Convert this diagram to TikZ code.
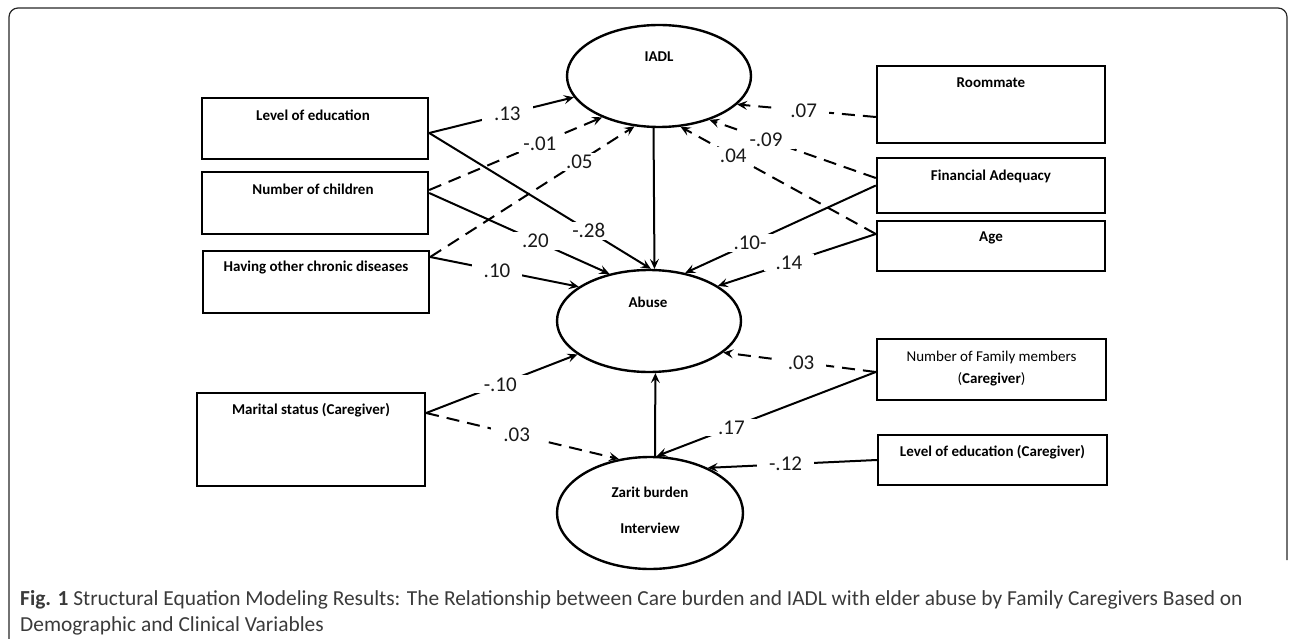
\documentclass[tikz,border=0pt]{standalone}
\usepackage{fontspec}
\setmainfont{Carlito}
\newfontfamily\capfont{Carlito}
\usetikzlibrary{shapes.geometric,arrows.meta}
\definecolor{captext}{HTML}{3A3A3A}
\begin{document}
\begin{tikzpicture}[x=1pt,y=-1pt,
  box/.style={draw,line width=2.4pt,rectangle,inner sep=0pt},
  oval/.style={draw,line width=2.4pt,ellipse,inner sep=0pt,minimum width=184pt,minimum height=102pt},
  btxt/.style={font=\fontsize{15}{17}\selectfont\bfseries,inner sep=0pt,align=center},
  coef/.style={font=\fontsize{21}{23}\selectfont,fill=white,inner xsep=12pt,inner ysep=2pt,text=black!90},
  path/.style={line width=2pt,-{Stealth[length=10pt,width=9pt,inset=4pt]}},
  dpath/.style={path,dash pattern=on 13pt off 8pt},
]
\useasboundingbox (0,0) rectangle (1292,639);
% frame
\draw[line width=1.2pt,rounded corners=9pt,black!85] (9,639) -- (9,8) -- (1287,8) -- (1287,560);

% ovals
\node[oval] (iadl) at (659,76) {};
\node[btxt] (iadlT) at (659,57) {IADL};
\node[oval] (abuse) at (649,321) {};
\node[btxt] (abuseT) at (648,302) {Abuse};
\node[oval,minimum width=186pt,minimum height=112pt] (zarit) at (650,513) {};
\node[btxt] (zaritT1) at (650,492) {Zarit burden};
\node[btxt] (zaritT2) at (650,528) {Interview};

% left boxes
\node[box,minimum width=226pt,minimum height=61pt] (loe) at (315,128.5) {};
\node[btxt] (loeT) at (313,115) {Level of education};
\node[box,minimum width=226pt,minimum height=62pt] (noc) at (315,203) {};
\node[btxt] (nocT) at (313,189) {Number of children};
\node[box,minimum width=226pt,minimum height=62pt] (hocd) at (316,282) {};
\node[btxt] (hocdT) at (316,268) {Having other chronic diseases};
\node[box,minimum width=228pt,minimum height=93pt] (mar) at (311,439.5) {};
\node[btxt] (marT) at (311,410) {Marital status (Caregiver)};

% right boxes
\node[box,minimum width=228pt,minimum height=77pt] (room) at (991,104.5) {};
\node[btxt] (roomT) at (991,83) {Roommate};
\node[box,minimum width=228pt,minimum height=55pt] (fin) at (991,185.5) {};
\node[btxt] (finT) at (991,176) {Financial Adequacy};
\node[box,minimum width=228pt,minimum height=50pt] (age) at (991,246) {};
\node[btxt] (ageT) at (991,238) {Age};
\node[box,minimum width=229pt,minimum height=61pt] (nfm) at (991.5,369.5) {};
\node[btxt,font=\fontsize{15}{22}\selectfont] (nfmT) at (991.5,369) {Number of Family members\\(\textbf{Caregiver})};
\node[box,minimum width=229pt,minimum height=50pt] (loec) at (992.5,460) {};
\node[btxt] (loecT) at (992.5,452) {Level of education (Caregiver)};

% start points
\coordinate (loeS) at ([yshift=-4.5pt]loe.east);
\coordinate (nocS1) at ([yshift=13pt]noc.east);
\coordinate (nocS2) at ([yshift=10pt]noc.east);
\coordinate (hocdS) at ([yshift=25pt]hocd.east);
\coordinate (roomS) at ([yshift=-12.5pt]room.west);
\coordinate (finS1) at ([yshift=7.5pt]fin.west);
\coordinate (finS2) at (fin.west);
\coordinate (ageS) at ([yshift=12pt]age.west);
\coordinate (marS) at ([yshift=26.5pt]mar.east);
\coordinate (nfmS) at ([yshift=-2.5pt]nfm.west);
\coordinate (loecS) at (loec.west);

% connectors
\draw[path] (loeS) -- node[coef,pos=0.54] (c1) {.13} (iadl.194);
\draw[path] (loeS) -- node[coef,pos=0.72] (c2) {-.28} (abuse.88);
\draw[dpath] (nocS1) -- node[coef,pos=0.64] (c3) {-.01} (iadl.216);
\draw[path] (nocS2) -- node[coef,pos=0.59] (c4) {.20} (abuse.130);
\draw[dpath] (hocdS) -- node[coef,pos=0.73] (c5) {.05} (iadl.244);
\draw[path] (hocdS) -- node[coef,pos=0.45] (c6) {.10} (abuse.154);
\draw[path] (iadl.264) -- (abuse.84);
\draw[dpath] (roomS) -- node[coef,pos=0.52] (c8) {.07} (iadl.340);
\draw[dpath] (finS1) -- node[coef,pos=0.66] (c9) {-.09} (iadl.319);
\draw[dpath] (ageS) -- node[coef,pos=0.73] (c10) {.04} (iadl.293);
\draw[path] (finS2) -- node[coef,pos=0.66] (c11) {.10-} (abuse.53);
\draw[path] (ageS) -- node[coef,pos=0.55] (c12) {.14} (abuse.27);
\draw[path] (marS) -- node[coef,pos=0.49] (c13) {-.10} (abuse.205);
\draw[dpath] (marS) -- node[coef,pos=0.47] (c14) {.03} (zarit.120);
\draw[path] (zarit.85) -- (abuse.277);
\draw[dpath] (nfmS) -- node[coef,pos=0.49] (c16) {.03} (abuse.337);
\draw[path] (nfmS) -- node[coef,pos=0.66] (c17) {.17} (zarit.83);
\draw[path] (loecS) -- node[coef,pos=0.54] (c18) {-.12} (zarit.38);

% caption
\node[anchor=west,inner sep=0pt,text=captext,font=\capfont\fontsize{21.4}{25}\selectfont] (cap1) at (20,600)
  {\textbf{Fig. 1} Structural Equation Modeling Results: The Relationship between Care burden and IADL with elder abuse by Family Caregivers Based on};
\node[anchor=west,inner sep=0pt,text=captext,font=\capfont\fontsize{21.4}{25}\selectfont] (cap2) at (20,626)
  {Demographic and Clinical Variables};
\end{tikzpicture}
\end{document}
